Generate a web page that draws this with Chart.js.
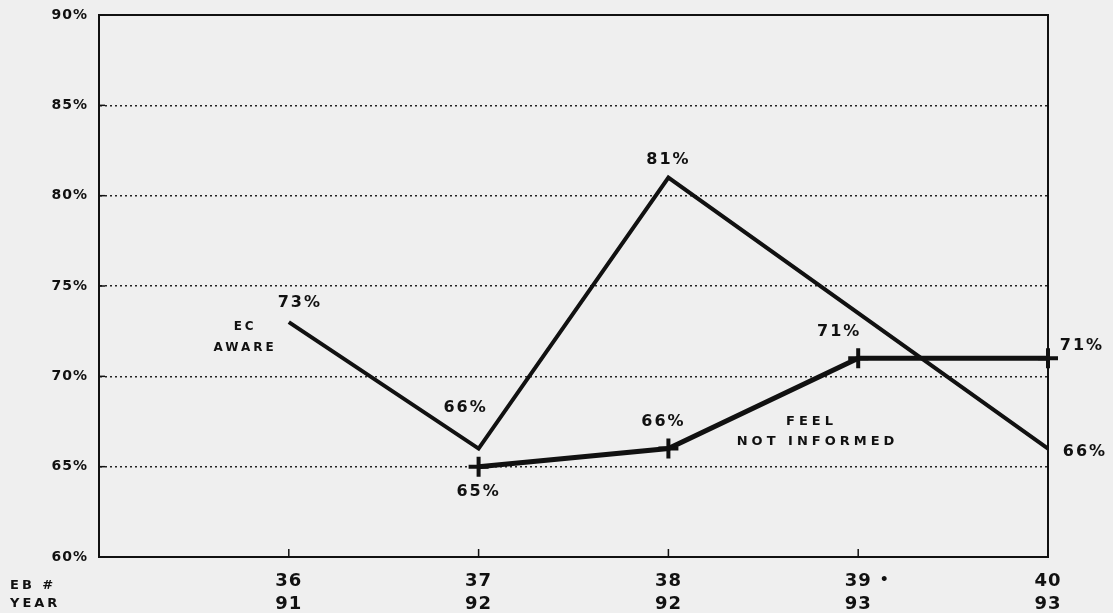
<!DOCTYPE html>
<html>
<head>
<meta charset="utf-8">
<script src="https://cdn.jsdelivr.net/npm/chart.js@4/dist/chart.umd.min.js"></script>
<style>
  html, body { margin: 0; padding: 0; background: #efefef; }
  #wrap { width: 1113px; height: 613px; position: relative; }
</style>
</head>
<body>
<div id="wrap"><canvas id="c"></canvas></div>
<script>
// Survey waves (EB number) and the year each wave was fielded
const ebWaves = [36, 37, 38, 39, 40];
const waveLabels = ['36', '37', '38', '39', '40'];
const waveMarks = ['', '', '', '\u2022', ''];
const years = ['91', '92', '92', '93', '93'];

// Percent values per wave (null = not measured)
const ecAware = [73, 66, 81, null, 66];
const feelNotInformed = [null, 65, 66, 71, 71];

// Y axis ticks
const yTicks = [60, 65, 70, 75, 80, 85, 90];

// Where each value label sits relative to its point, in pixels
const ecLabelOffsets = [[11, -19], [-13, -41], [0, -18], null, [37, 3]];
const feelLabelOffsets = [null, [0, 25], [-5, -27], [-19, -26], [34, -12]];

const toPoints = vals => ebWaves.map((x, i) => ({ x, y: vals[i] }));

const INK = '#111';
const FONT = 'DejaVu Sans';

const decorations = {
  id: 'decorations',
  beforeDraw(chart) {
    const ctx = chart.ctx;
    ctx.save();
    ctx.fillStyle = '#efefef';
    ctx.fillRect(0, 0, chart.width, chart.height);
    ctx.restore();
    ctx.letterSpacing = '1px';
  },
  beforeDatasetsDraw(chart) {
    const { ctx, chartArea: a, scales } = chart;
    ctx.save();
    ctx.strokeStyle = INK;
    ctx.lineWidth = 2;
    // top and right edges of the frame
    ctx.beginPath();
    ctx.moveTo(a.left, a.top);
    ctx.lineTo(a.right, a.top);
    ctx.lineTo(a.right, a.bottom);
    ctx.stroke();
    // short inward tick marks
    ctx.lineWidth = 1.5;
    yTicks.forEach(v => {
      const y = scales.y.getPixelForValue(v);
      ctx.beginPath();
      ctx.moveTo(a.left, y);
      ctx.lineTo(a.left + 6, y);
      ctx.stroke();
    });
    ebWaves.forEach(v => {
      const x = scales.x.getPixelForValue(v);
      ctx.beginPath();
      ctx.moveTo(x, a.bottom);
      ctx.lineTo(x, a.bottom - 8);
      ctx.stroke();
    });
    ctx.restore();
  },
  afterDatasetsDraw(chart) {
    const { ctx, scales, chartArea: a } = chart;
    const sx = scales.x, sy = scales.y;
    ctx.save();
    ctx.fillStyle = INK;
    ctx.textAlign = 'center';
    ctx.textBaseline = 'middle';

    // value labels
    ctx.font = `bold 16px "${FONT}"`;
    ctx.letterSpacing = '2px';
    const drawVals = (vals, offsets) => {
      vals.forEach((v, i) => {
        if (v === null || !offsets[i]) return;
        const x = sx.getPixelForValue(ebWaves[i]) + offsets[i][0];
        const y = sy.getPixelForValue(v) + offsets[i][1];
        ctx.fillText(v + '%', x, y);
      });
    };
    drawVals(ecAware, ecLabelOffsets);
    drawVals(feelNotInformed, feelLabelOffsets);

    // wave footnote marks beside the EB number
    ctx.font = `bold 14px "${FONT}"`;
    ctx.letterSpacing = '0px';
    waveMarks.forEach((m, i) => {
      if (!m) return;
      ctx.fillText(m, sx.getPixelForValue(ebWaves[i]) + 26, a.bottom + 23);
    });

    // series names
    ctx.font = `bold 12px "${FONT}"`;
    ctx.letterSpacing = '3px';
    ctx.fillText('EC', sx.getPixelForValue(35.77), sy.getPixelForValue(72.73));
    ctx.fillText('AWARE', sx.getPixelForValue(35.77), sy.getPixelForValue(71.57));
    ctx.textAlign = 'left';
    ctx.font = `bold 13px "${FONT}"`;
    ctx.letterSpacing = '4px';
    ctx.fillText('FEEL', sx.getPixelForValue(38.62), sy.getPixelForValue(67.5));
    ctx.fillText('NOT INFORMED', sx.getPixelForValue(38.36), sy.getPixelForValue(66.38));

    // row captions under the axis
    ctx.font = `bold 13px "${FONT}"`;
    ctx.letterSpacing = '3px';
    ctx.fillText('EB #', 10, 586);
    ctx.fillText('YEAR', 10, 604);
    ctx.restore();
  }
};

new Chart(document.getElementById('c'), {
  type: 'line',
  data: {
    datasets: [
      {
        label: 'EC AWARE',
        data: toPoints(ecAware),
        borderColor: INK,
        borderWidth: 4,
        pointRadius: 0,
        spanGaps: true,
        tension: 0,
        clip: false
      },
      {
        label: 'FEEL NOT INFORMED',
        data: toPoints(feelNotInformed),
        borderColor: INK,
        backgroundColor: INK,
        borderWidth: 5,
        pointStyle: 'cross',
        pointRadius: 10,
        pointBorderWidth: 4,
        spanGaps: false,
        tension: 0,
        clip: false
      }
    ]
  },
  options: {
    responsive: true,
    maintainAspectRatio: false,
    animation: false,
    layout: { padding: { top: 15, right: 65, left: 0, bottom: 0 } },
    plugins: { legend: { display: false }, tooltip: { enabled: false } },
    scales: {
      x: {
        type: 'linear',
        min: 35,
        max: 40,
        afterFit(scale) { scale.height = 56; },
        afterBuildTicks(scale) { scale.ticks = ebWaves.map(v => ({ value: v })); },
        grid: { display: false, drawTicks: false },
        border: { display: true, color: INK, width: 2 },
        ticks: {
          padding: 13,
          color: INK,
          font: { family: FONT, size: 18, weight: 'bold', lineHeight: 1.28 },
          callback(v) {
            const i = ebWaves.indexOf(v);
            return i < 0 ? '' : [waveLabels[i], years[i]];
          }
        }
      },
      y: {
        min: 60,
        max: 90,
        afterFit(scale) {
          scale.width = 99;
          scale.paddingTop = 0;
          scale.paddingBottom = 0;
        },
        afterBuildTicks(scale) { scale.ticks = yTicks.map(v => ({ value: v })); },
        grid: { color: '#222', lineWidth: 1.5, drawTicks: false },
        border: { display: true, color: INK, width: 2, dash: [2, 3] },
        ticks: {
          padding: 11,
          color: INK,
          font: { family: FONT, size: 14, weight: 'bold' },
          callback: v => v + '%'
        }
      }
    }
  },
  plugins: [decorations]
});
</script>
</body>
</html>
